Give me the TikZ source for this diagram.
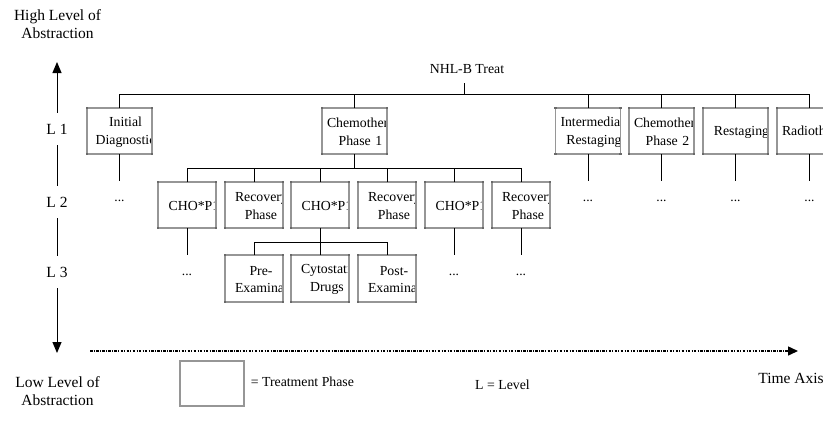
\documentclass[tikz,border=0pt]{standalone}
\usepackage{fontspec}
\setmainfont{Liberation Serif}
\usetikzlibrary{arrows.meta}
\definecolor{boxgray}{RGB}{150,150,150}
\definecolor{handlegray}{RGB}{105,105,105}
\begin{document}
\begin{tikzpicture}[x=1pt,y=-1pt,
  link/.style={draw=black,line width=0.9pt},
  axis/.style={draw=black,line width=1pt,-{Triangle[length=11pt,width=9pt]}},
  timeline/.style={draw=black,line width=1.5pt,dash pattern=on 2.5pt off 1.3pt on 1pt off 1.3pt,
    -{Triangle[length=10pt,width=9pt]}},
  boxtext/.style={font=\fontsize{13.8pt}{17.5pt}\selectfont,inner sep=0pt,align=center},
  sidetext/.style={font=\fontsize{15.5pt}{18.5pt}\selectfont,inner sep=0pt,align=center},
  phase/.style={draw=boxgray,line width=1.3pt,inner sep=0pt,outer sep=0pt,
    minimum width=65pt,minimum height=46pt},
  subphase/.style={phase,minimum width=58pt},
  wide label/.style={path picture={\node[boxtext,text width=67pt,anchor=north,xshift=6pt,yshift=-1pt]
    at (path picture bounding box.north) {#1};}},
  narrow label/.style={path picture={\node[boxtext,text width=52pt,anchor=north,xshift=7pt,yshift=-1pt]
    at (path picture bounding box.north) {#1};}},
  more/.style={font=\fontsize{13.5pt}{17pt}\selectfont,inner sep=0pt,text height=20pt,text depth=0pt,anchor=base},
  levellabel/.style={sidetext,minimum height=32pt}]
\clip (0,0) rectangle (823,426);

% level 1 phases
\node[phase,wide label={Initial\\Diagnostic}] (init) at (119.5,131) {};
\node[phase,wide label={Chemotherapy\\Phase 1}] (chemo1) at (354.5,131) {};
\node[phase,wide label={Intermediate\\Restaging}] (inter) at (588,131) {};
\node[phase,wide label={Chemotherapy\\Phase 2}] (chemo2) at (661.5,131) {};
\node[phase,wide label={Restaging}] (restag) at (735.5,131) {};
\node[phase,wide label={Radiotherapy}] (radio) at (809.5,131) {};

% level 2 phases
\node[subphase,narrow label={CHO*P1}] (cho1) at (187,205) {};
\node[subphase,narrow label={Recovery\\Phase}] (rec1) at (254,205) {};
\node[subphase,narrow label={CHO*P1}] (cho2) at (320,205) {};
\node[subphase,narrow label={Recovery\\Phase}] (rec2) at (387,205) {};
\node[subphase,narrow label={CHO*P1}] (cho3) at (454,205) {};
\node[subphase,narrow label={Recovery\\Phase}] (rec3) at (521,205) {};

% level 3 phases
\node[subphase,minimum height=47pt,narrow label={Pre-\\Examination}] (pre) at (254,278.5) {};
\node[subphase,minimum height=47pt,narrow label={Cytostatic\\Drugs}] (cyto) at (320,278.5) {};
\node[subphase,minimum height=47pt,narrow label={Post-\\Examination}] (post) at (387,278.5) {};

% selection handles on the phase boxes
\foreach \n in {init,chemo1,inter,chemo2,restag,radio,cho1,rec1,cho2,rec2,cho3,rec3,pre,cyto,post}
  \foreach \a in {north west,north east,south west,south east}
    \fill[handlegray] (\n.\a) +(-1.3,-1.3) rectangle +(1.3,1.3);

% root of the tree
\node[boxtext] (root) at (467,69) {NHL-B Treat};
\coordinate (hub) at (464,94);
\draw[link] (hub) -- ++(0,-11);
\draw[link] (init.north) -- ++(0,-14) -| (radio.north);
\foreach \n in {chemo1,inter,chemo2,restag}
  \draw[link] (\n.north) -- ++(0,-14);

% level 1 -> level 2
\draw[link] (chemo1.south) -- ++(0,14);
\draw[link] (cho1.north) -- ++(0,-14) -| (rec3.north);
\foreach \n in {rec1,cho2,rec2,cho3}
  \draw[link] (\n.north) -- ++(0,-14);

% level 2 -> level 3
\draw[link] (cho2.south) -- (cyto.north);
\draw[link] (pre.north) -- ++(0,-13) -| (post.north);

% elided children
\node[more] (m1) at (119.5,201) {...};
\node[more] (m2) at (588,201) {...};
\node[more] (m3) at (661.5,201) {...};
\node[more] (m4) at (735.5,201) {...};
\node[more] (m5) at (809.5,201) {...};
\node[more] (m6) at (187,275) {...};
\node[more] (m7) at (454,275) {...};
\node[more] (m8) at (521,275) {...};
\draw[link] (init.south) -- (m1.north);
\draw[link] (inter.south) -- (m2.north);
\draw[link] (chemo2.south) -- (m3.north);
\draw[link] (restag.south) -- (m4.north);
\draw[link] (radio.south) -- (m5.north);
\draw[link] (cho1.south) -- (m6.north);
\draw[link] (cho3.south) -- (m7.north);
\draw[link] (rec3.south) -- (m8.north);

% abstraction axis
\node[sidetext] (high) at (57.5,24) {High Level of\\Abstraction};
\node[sidetext] (low) at (57.5,391) {Low Level of\\Abstraction};
\node[levellabel] (l1) at (57,129) {L 1};
\node[levellabel] (l2) at (57,202) {L 2};
\node[levellabel] (l3) at (57,272) {L 3};
\coordinate (abtop) at (57,62);
\coordinate (abbottom) at (57,353);
\draw[axis] (l1.north) -- (abtop);
\draw[link,line width=1pt] (l1.south) -- (l2.north);
\draw[link,line width=1pt] (l2.south) -- (l3.north);
\draw[axis] (l3.south) -- (abbottom);

% time axis
\coordinate (tstart) at (90,351);
\coordinate (tend) at (798,351);
\draw[timeline] (tstart) -- (tend);
\node[sidetext] (time) at (791,378) {Time Axis};

% legend
\node[draw=boxgray,line width=1.3pt,minimum width=64pt,minimum height=45pt,inner sep=0pt] (key) at (212,383.5) {};
\node[boxtext,anchor=west] (keytext) at ([xshift=6pt,yshift=1.5pt]key.east) {= Treatment Phase};
\node[boxtext,anchor=west] (lvlkey) at (475,385) {L = Level};
\end{tikzpicture}
\end{document}
